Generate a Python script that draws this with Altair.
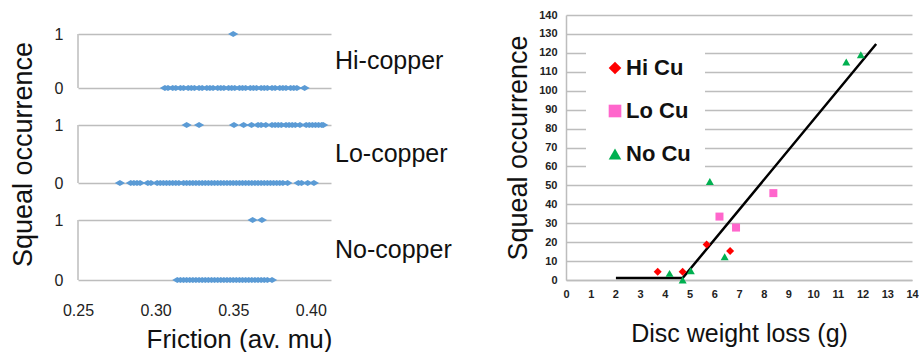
import altair as alt
import pandas as pd

# ---------------- Left: friction vs squeal occurrence ----------------
groups = ["Hi-copper", "Lo-copper", "No-copper"]

hi_zero = [0.306, 0.308, 0.311, 0.313, 0.316, 0.318, 0.321, 0.323, 0.325, 0.328,
           0.330, 0.333, 0.335, 0.337, 0.340, 0.342, 0.344, 0.347, 0.349, 0.351,
           0.354, 0.356, 0.358, 0.361, 0.363, 0.365, 0.368, 0.370, 0.372, 0.375,
           0.377, 0.380, 0.382, 0.384, 0.387, 0.389, 0.391, 0.396]
hi_one = [0.350]

lo_zero = [0.277, 0.284, 0.286, 0.288, 0.290, 0.295, 0.297,
           0.301, 0.303, 0.305, 0.307, 0.309, 0.311, 0.313, 0.315, 0.318, 0.320,
           0.322, 0.324, 0.326, 0.328, 0.330, 0.332, 0.334, 0.336, 0.338, 0.340,
           0.342, 0.344, 0.346, 0.348, 0.350, 0.352, 0.354, 0.356, 0.358, 0.360,
           0.362, 0.364, 0.366, 0.368, 0.370, 0.372, 0.374, 0.376, 0.378, 0.380,
           0.382, 0.385, 0.392, 0.394, 0.398, 0.402]
lo_one = [0.320, 0.328, 0.3505, 0.3567, 0.3618, 0.366, 0.368, 0.371, 0.375, 0.377,
          0.379, 0.381, 0.384, 0.386, 0.388, 0.390, 0.393, 0.397, 0.399, 0.401,
          0.403, 0.405, 0.407, 0.408]

no_zero = [0.314, 0.316, 0.318, 0.320, 0.322, 0.324, 0.326, 0.328, 0.330, 0.332,
           0.334, 0.336, 0.338, 0.340, 0.342, 0.344, 0.346, 0.348, 0.350, 0.352,
           0.354, 0.356, 0.358, 0.360, 0.362, 0.364, 0.366, 0.368, 0.370, 0.372,
           0.375]
no_one = [0.3625, 0.3685]

friction_ticks = [0.25, 0.30, 0.35, 0.40]
squeal_ticks = [0, 1]

FONT = "Liberation Sans"
GRID = "#BDBDBD"
flat_diamond = "M-1,0L0,-0.6L1,0L0,0.6Z"
PW = 253


def panel(name, zeros, ones, ph, show_x, show_title, extra_top=0):
    df = pd.DataFrame(
        [{"friction": v, "squeal": 0} for v in zeros]
        + [{"friction": v, "squeal": 1} for v in ones]
    )
    if show_x:
        xaxis = alt.Axis(values=friction_ticks, format=".2f", grid=False, domain=False,
                         ticks=False, labelPadding=22, labelFontSize=16, labelFont=FONT,
                         labelColor="#222", labelFlush=False, title="Friction (av. mu)",
                         titleFontSize=26, titleFont=FONT, titleFontWeight="normal",
                         titlePadding=8, titleColor="#111", titleX=161, titleAlign="center")
    else:
        xaxis = None
    yaxis = alt.Axis(values=squeal_ticks, format="d", grid=True, gridColor=GRID,
                     gridWidth=1.5, domain=False, ticks=False, labelPadding=15,
                     labelFontSize=16, labelFont=FONT, labelColor="#222",
                     title="Squeal occurrence" if show_title else None,
                     titleFontSize=27, titleFont=FONT, titleFontWeight="normal",
                     titlePadding=17, titleColor="#111")
    h = ph + extra_top
    ymax = 1 + extra_top / ph
    xs = alt.Scale(domain=[0.25, 0.413], nice=False, zero=False)
    ysc = alt.Scale(domain=[0, ymax], nice=False, zero=False)
    pts = alt.Chart(df).mark_point(
        shape=flat_diamond, filled=True, size=105, color="#5B9BD5", opacity=1
    ).encode(
        x=alt.X("friction:Q", scale=xs, axis=xaxis),
        y=alt.Y("squeal:Q", scale=ysc, axis=yaxis),
    )
    vline = alt.Chart(pd.DataFrame({"lo": [0], "hi": [1]})).mark_rule(
        color=GRID, strokeWidth=1.5
    ).encode(x=alt.value(0), y=alt.Y("lo:Q", scale=ysc, axis=yaxis), y2="hi:Q")
    lab = alt.Chart(pd.DataFrame({"name": [name]})).mark_text(
        align="left", baseline="middle", fontSize=25, font=FONT, color="#111"
    ).encode(x=alt.value(PW + 4), y=alt.value(extra_top + ph / 2), text="name:N")
    return alt.layer(vline, pts, lab).properties(width=PW, height=h)


left = alt.vconcat(
    panel(groups[0], hi_zero, hi_one, 54, False, False, extra_top=19),
    panel(groups[1], lo_zero, lo_one, 58, False, True),
    panel(groups[2], no_zero, no_one, 60, True, False),
    spacing=37,
    bounds="flush",
)

# ---------------- Right: disc weight loss vs squeal occurrence ----------------
series_order = ["Hi Cu", "Lo Cu", "No Cu"]
hi_x = [3.71, 4.72, 5.69, 6.64]
hi_y = [4.4, 4.4, 18.7, 15.3]
lo_x = [6.21, 6.88, 8.39]
lo_y = [33.5, 27.7, 45.9]
no_x = [4.19, 4.72, 5.05, 5.82, 6.42, 11.34, 11.93]
no_y = [3.5, 0.0, 4.9, 52.0, 12.3, 115.2, 119.0]
fit_x = [2.02, 4.72, 12.55]
fit_y = [1.0, 1.0, 124.7]
loss_ticks = list(range(0, 15))
count_ticks = list(range(0, 141, 10))

prow = []
for s, xs_, ys_ in zip(series_order, [hi_x, lo_x, no_x], [hi_y, lo_y, no_y]):
    prow += [{"series": s, "loss": x, "count": y} for x, y in zip(xs_, ys_)]
right_df = pd.DataFrame(prow)
fit_df = pd.DataFrame({"loss": fit_x, "count": fit_y})

xaxis_r = alt.Axis(values=loss_ticks, grid=False, domainColor=GRID, domainWidth=1.5,
                   ticks=False, labelPadding=8, labelFontSize=11, labelFontWeight="bold",
                   labelFont=FONT, labelColor="#222", labelFlush=False,
                   title="Disc weight loss (g)", titleFontSize=25, titleFont=FONT,
                   titleFontWeight="normal", titlePadding=22, titleColor="#111",
                   labelOverlap=False)
yaxis_r = alt.Axis(values=count_ticks, grid=True, gridColor=GRID, gridWidth=1.5,
                   domainColor=GRID, domainWidth=1.5, ticks=False, labelPadding=9,
                   labelFontSize=11, labelFontWeight="bold", labelFont=FONT,
                   labelColor="#222", labelFlush=False, title="Squeal occurrence",
                   titleFontSize=27, titleFont=FONT, titleFontWeight="normal",
                   titlePadding=6, titleColor="#111", labelOverlap=False)
xs_r = alt.Scale(domain=[0, 14], nice=False)
ys_r = alt.Scale(domain=[0, 140], nice=False)

legend = alt.Legend(title=None, orient="none", legendX=20, legendY=28, fillColor="white",
                    padding=14, labelFontSize=22, labelFontWeight="bold", labelFont=FONT,
                    labelColor="#111", symbolSize=160, rowPadding=21, labelOffset=0,
                    symbolOffset=4, symbolStrokeWidth=0)

line = alt.Chart(fit_df).mark_line(color="black", strokeWidth=2.5).encode(
    x=alt.X("loss:Q", scale=xs_r, axis=xaxis_r),
    y=alt.Y("count:Q", scale=ys_r, axis=yaxis_r),
)
pts = alt.Chart(right_df).mark_point(filled=True, opacity=1, size=64).encode(
    x=alt.X("loss:Q", scale=xs_r, axis=xaxis_r),
    y=alt.Y("count:Q", scale=ys_r, axis=yaxis_r),
    color=alt.Color("series:N", sort=series_order,
                    scale=alt.Scale(domain=series_order, range=["#FF0000", "#FF66CC", "#00B050"]),
                    legend=legend),
    shape=alt.Shape("series:N", sort=series_order,
                    scale=alt.Scale(domain=series_order, range=["diamond", "square", "triangle-up"]),
                    legend=legend),
)
right = alt.layer(line, pts).properties(width=346, height=265)

chart = alt.hconcat(left, right, spacing=52).resolve_legend(
    color="independent", shape="independent"
).properties(
    padding={"left": 9, "top": 9, "right": 0, "bottom": 0},
    background="white",
).configure_view(stroke=None)

chart.save("out.html", embed_options={"renderer": "svg", "actions": False})
